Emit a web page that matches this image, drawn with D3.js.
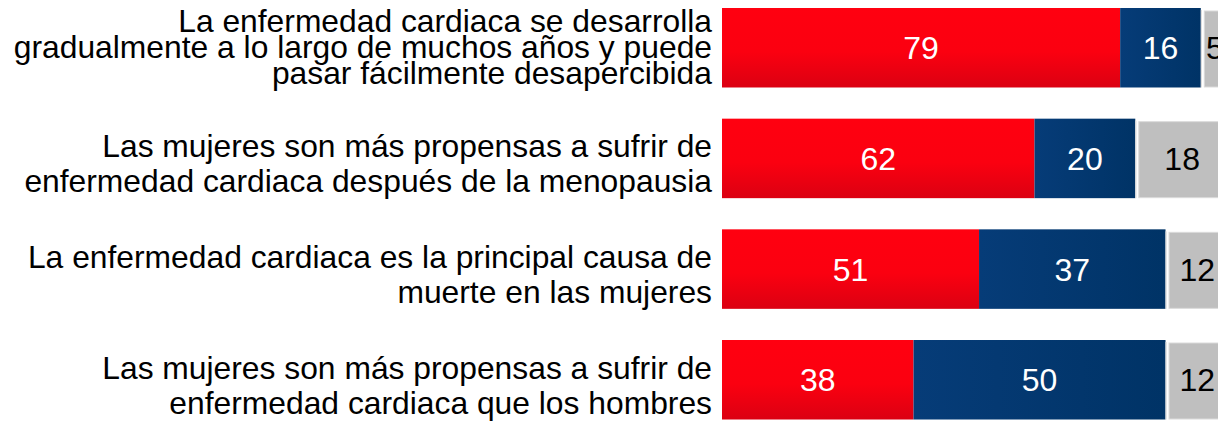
<!DOCTYPE html>
<html>
<head>
<meta charset="utf-8">
<script src="https://cdn.jsdelivr.net/npm/d3@7"></script>
<style>
  body { margin: 0; background: #fff; overflow: hidden; }
  svg { display: block; font-family: "Liberation Sans", Arial, sans-serif; }
</style>
</head>
<body>
<div id="chart"></div>
<script>
const FRAME_WIDTH = 1218;
const FRAME_HEIGHT = 427;

// data
const CATEGORIES = [
  ["La enfermedad cardiaca se desarrolla", "gradualmente a lo largo de muchos años y puede", "pasar fácilmente desapercibida"],
  ["Las mujeres son más propensas a sufrir de", "enfermedad cardiaca después de la menopausia"],
  ["La enfermedad cardiaca es la principal causa de", "muerte en las mujeres"],
  ["Las mujeres son más propensas a sufrir de", "enfermedad cardiaca que los hombres"]
];
const SI = [79, 62, 51, 38];
const NO = [16, 20, 37, 50];
const NS = [5, 18, 12, 12];

const SVG = d3.select("#chart")
  .append("svg")
    .attr("width", FRAME_WIDTH)
    .attr("height", FRAME_HEIGHT);

const defs = SVG.append("defs");

const redGrad = defs.append("linearGradient")
  .attr("id", "redGrad").attr("x1", 0).attr("y1", 0).attr("x2", 0).attr("y2", 1);
redGrad.append("stop").attr("offset", "0%").attr("stop-color", "#ff0010");
redGrad.append("stop").attr("offset", "55%").attr("stop-color", "#fb0010");
redGrad.append("stop").attr("offset", "100%").attr("stop-color", "#db0012");

const blueGrad = defs.append("linearGradient")
  .attr("id", "blueGrad").attr("x1", 0).attr("y1", 0).attr("x2", 1).attr("y2", 0);
blueGrad.append("stop").attr("offset", "0%").attr("stop-color", "#063c78");
blueGrad.append("stop").attr("offset", "100%").attr("stop-color", "#003366");

const IDX = d3.range(CATEGORIES.length);

const X_SCALE = d3.scaleLinear()
  .domain([0, 100])
  .range([722, 722 + 504]);

const Y_SCALE = d3.scaleBand()
  .domain(IDX)
  .range([8, 419.5])
  .paddingInner(0.2817)
  .paddingOuter(0);

const BH = Y_SCALE.bandwidth();

// red segment
SVG.selectAll(".si")
  .data(IDX)
  .enter()
  .append("rect")
    .attr("class", "si")
    .attr("x", X_SCALE(0))
    .attr("y", (i) => Y_SCALE(i))
    .attr("width", (i) => X_SCALE(SI[i]) - X_SCALE(0))
    .attr("height", BH)
    .attr("fill", "url(#redGrad)");

// blue segment
SVG.selectAll(".no")
  .data(IDX)
  .enter()
  .append("rect")
    .attr("class", "no")
    .attr("x", (i) => X_SCALE(SI[i]))
    .attr("y", (i) => Y_SCALE(i))
    .attr("width", (i) => X_SCALE(SI[i] + NO[i]) - X_SCALE(SI[i]))
    .attr("height", BH)
    .attr("fill", "url(#blueGrad)");

// thin light edge after blue
SVG.selectAll(".edge")
  .data(IDX)
  .enter()
  .append("rect")
    .attr("class", "edge")
    .attr("x", (i) => X_SCALE(SI[i] + NO[i]))
    .attr("y", (i) => Y_SCALE(i) + 2)
    .attr("width", 1.2)
    .attr("height", BH - 2)
    .attr("fill", "#dcdcdc");

// grey segment, slightly inset
SVG.selectAll(".ns")
  .data(IDX)
  .enter()
  .append("rect")
    .attr("class", "ns")
    .attr("x", (i) => X_SCALE(SI[i] + NO[i]) + 3.5)
    .attr("y", (i) => Y_SCALE(i) + 3)
    .attr("width", (i) => X_SCALE(100) - X_SCALE(SI[i] + NO[i]) - 3.5)
    .attr("height", BH - 3.5)
    .attr("fill", "#bfbfbf")
    .attr("stroke", "#dadada")
    .attr("stroke-width", 1);

// value labels
function valueLabels(cls, vals, start, color) {
  SVG.selectAll("." + cls)
    .data(IDX)
    .enter()
    .append("text")
      .attr("class", cls)
      .attr("x", (i) => (X_SCALE(start(i)) + X_SCALE(start(i) + vals[i])) / 2 + (cls === "vns" ? 1.5 : 0))
      .attr("y", (i) => Y_SCALE(i) + BH / 2)
      .attr("dy", "0.36em")
      .attr("text-anchor", "middle")
      .attr("font-size", "32px")
      .attr("fill", color)
      .text((i) => vals[i]);
}
valueLabels("vsi", SI, (i) => 0, "#fff");
valueLabels("vno", NO, (i) => SI[i], "#fff");
valueLabels("vns", NS, (i) => SI[i] + NO[i], "#000");

// category labels, right aligned
const labels = SVG.selectAll(".cat")
  .data(IDX)
  .enter()
  .append("text")
    .attr("class", "cat")
    .attr("text-anchor", "end")
    .attr("font-size", "31.8px")
    .attr("fill", "#000");

labels.each(function(i) {
  const lines = CATEGORIES[i];
  const n = lines.length;
  const lh = n > 2 ? 26 : 35;
  const shift = n > 2 ? 10.5 : 16.5;
  const c = Y_SCALE(i) + BH / 2;
  d3.select(this).selectAll("tspan")
    .data(lines)
    .enter()
    .append("tspan")
      .attr("x", 712)
      .attr("y", (d, k) => c + (k - (n - 1) / 2) * lh + shift)
      .text((d) => d);
});
</script>
</body>
</html>
